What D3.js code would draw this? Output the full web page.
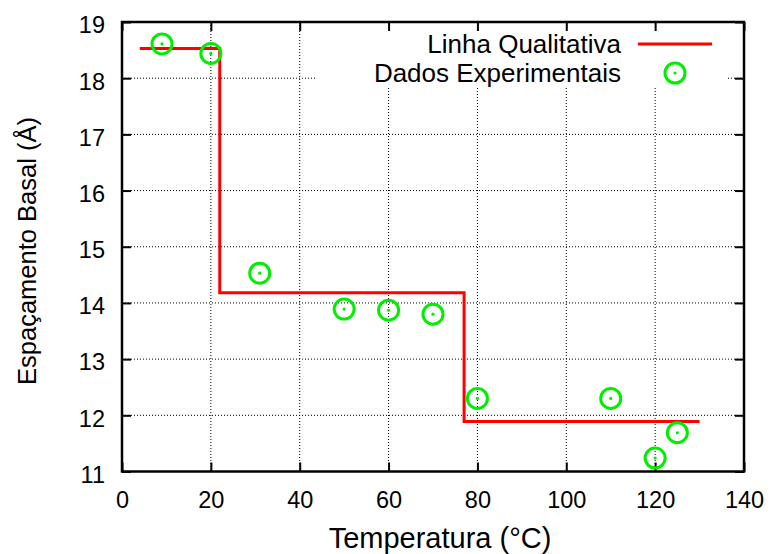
<!DOCTYPE html>
<html><head><meta charset="utf-8">
<script src="https://cdn.jsdelivr.net/npm/d3@7"></script>
<style>body{margin:0;background:#fff}svg{display:block}text{font-family:"Liberation Sans",Arial,sans-serif;fill:#000}</style>
</head><body>
<svg id="c" width="773" height="554"></svg>
<script>
const xTicks = [0,20,40,60,80,100,120,140];
const yTicks = [11,12,13,14,15,16,17,18,19];
const expTemp = [9,20,31,50,60,70,80,110,120,125];
const expSpacing = [18.61,18.44,14.53,13.89,13.87,13.80,12.30,12.30,11.24,11.69];
const lineTemp = [4,22,22,77,77,130];
const lineSpacing = [18.53,18.53,14.18,14.18,11.89,11.89];
const legendLabels = ["Linha Qualitativa","Dados Experimentais"];
const xTitle = "Temperatura (°C)";
const yTitle = "Espaçamento Basal (Å)";

const svg = d3.select("#c");
const L=122,R=744,T=22,B=471.5;
const x = d3.scaleLinear().domain([0,140]).range([L,R]);
const y = d3.scaleLinear().domain([11,19]).range([B,T]);
const tickFs = 23.5, legFs = 26, xtFs = 29, ytFs = 25.5;
const FF = '"Liberation Sans",Arial,sans-serif';

// grid
const g = svg.append("g");
g.selectAll(".gx").data(xTicks.slice(1,-1)).join("line")
 .attr("x1",d=>x(d)).attr("x2",d=>x(d)).attr("y1",T).attr("y2",B)
 .attr("stroke","#000").attr("stroke-width",1).attr("stroke-dasharray","1,2");
g.selectAll(".gy").data(yTicks.slice(1,-1)).join("line")
 .attr("y1",d=>y(d)).attr("y2",d=>y(d)).attr("x1",L).attr("x2",R)
 .attr("stroke","#000").attr("stroke-width",1).attr("stroke-dasharray","1,2");
// opaque key
svg.append("rect").attr("x",316).attr("y",T+1).attr("width",727-316).attr("height",86-T-1).attr("fill","#fff");

// ticks on all 4 sides (inward)
const tl=9;
const axB = svg.append("g").attr("transform",`translate(0,${B})`).call(d3.axisBottom(x).tickValues(xTicks).tickSize(-tl));
const axT = svg.append("g").attr("transform",`translate(0,${T})`).call(d3.axisTop(x).tickValues(xTicks).tickSize(-tl).tickFormat(""));
const axL = svg.append("g").attr("transform",`translate(${L},0)`).call(d3.axisLeft(y).tickValues(yTicks).tickSize(-tl).tickPadding(17));
const axR = svg.append("g").attr("transform",`translate(${R},0)`).call(d3.axisRight(y).tickValues(yTicks).tickSize(-tl).tickFormat(""));
[axB,axT,axL,axR].forEach(a=>{a.select(".domain").remove();a.selectAll("line").attr("stroke","#000").attr("stroke-width",2);
 a.selectAll("text").style("font-family",FF).style("font-size",tickFs+"px").attr("fill","#000");});
axB.selectAll("text").attr("y",36.5).attr("dy",0);
axL.selectAll("text").attr("dy","0.46em");
// frame
svg.append("rect").attr("x",L).attr("y",T).attr("width",R-L).attr("height",B-T)
 .attr("fill","none").attr("stroke","#000").attr("stroke-width",2.5);

// red line
const lineData = lineTemp.map((t,i)=>[t,lineSpacing[i]]);
svg.append("path").datum(lineData).attr("d",d3.line().x(d=>x(d[0])).y(d=>y(d[1])))
 .attr("fill","none").attr("stroke","#ff0000").attr("stroke-width",3);

// points
const pts = expTemp.map((t,i)=>[t,expSpacing[i]]);
const pg = svg.append("g");
pg.selectAll("circle.o").data(pts).join("circle").attr("class","o")
 .attr("cx",d=>x(d[0])).attr("cy",d=>y(d[1])).attr("r",10).attr("fill","none").attr("stroke","#00ee00").attr("stroke-width",3);
pg.selectAll("circle.d").data(pts).join("circle").attr("class","d")
 .attr("cx",d=>x(d[0])).attr("cy",d=>y(d[1])).attr("r",1.6).attr("fill","#00ee00");

// legend
const lg = svg.append("g");
lg.append("text").attr("x",621).attr("y",53).attr("text-anchor","end").style("font-size",legFs+"px").text(legendLabels[0]);
lg.append("line").attr("x1",638).attr("x2",712).attr("y1",44).attr("y2",44).attr("stroke","#ff0000").attr("stroke-width",3);
lg.append("text").attr("x",621).attr("y",81.5).attr("text-anchor","end").style("font-size",legFs+"px").text(legendLabels[1]);
lg.append("circle").attr("cx",675).attr("cy",73).attr("r",10).attr("fill","none").attr("stroke","#00ee00").attr("stroke-width",3);
lg.append("circle").attr("cx",675).attr("cy",73).attr("r",1.6).attr("fill","#00ee00");

// titles
svg.append("text").attr("x",440).attr("y",548).attr("text-anchor","middle").style("font-size",xtFs+"px").text(xTitle);
svg.append("text").attr("transform",`translate(36,251) rotate(-90)`).attr("text-anchor","middle").style("font-size",ytFs+"px").text(yTitle);
</script>
</body></html>
